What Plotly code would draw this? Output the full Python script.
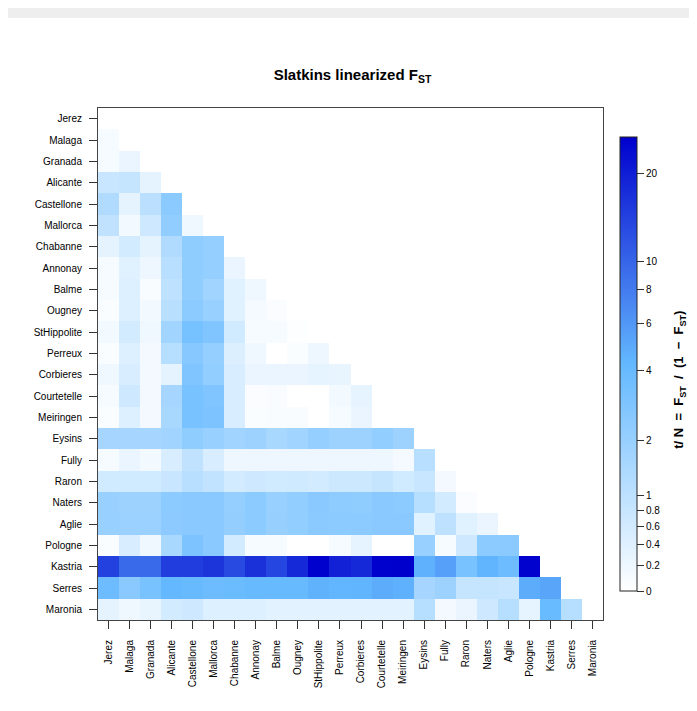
import numpy as np
import plotly.graph_objects as go

pops = ["Jerez", "Malaga", "Granada", "Alicante", "Castellone", "Mallorca",
        "Chabanne", "Annonay", "Balme", "Ougney", "StHippolite", "Perreux",
        "Corbieres", "Courtetelle", "Meiringen", "Eysins", "Fully", "Raron",
        "Naters", "Aglie", "Pologne", "Kastria", "Serres", "Maronia"]

# lower triangle, row i holds distances to populations 0..i-1
fst_rows = [
    [],
    [0.11],
    [0.11, 0.25],
    [0.79, 0.85, 0.32],
    [1.30, 0.32, 1.05, 2.45],
    [0.95, 0.15, 0.69, 2.20, 0.17],
    [0.32, 0.59, 0.32, 1.30, 2.23, 2.07],
    [0.11, 0.39, 0.20, 1.12, 2.23, 2.07, 0.25],
    [0.11, 0.43, 0.07, 0.99, 2.23, 1.72, 0.39, 0.17],
    [0.05, 0.43, 0.15, 1.10, 2.37, 1.97, 0.39, 0.12, 0.06],
    [0.13, 0.59, 0.18, 1.72, 3.25, 2.83, 0.64, 0.11, 0.11, 0.03],
    [0.05, 0.43, 0.14, 1.18, 2.60, 2.07, 0.45, 0.17, 0.00, 0.05, 0.20],
    [0.18, 0.51, 0.14, 0.32, 2.83, 2.16, 0.51, 0.25, 0.25, 0.25, 0.30, 0.27],
    [0.11, 0.70, 0.14, 1.58, 3.17, 2.83, 0.51, 0.06, 0.07, 0.00, 0.00, 0.15, 0.30],
    [0.05, 0.43, 0.14, 1.50, 3.17, 3.00, 0.51, 0.05, 0.07, 0.07, 0.00, 0.10, 0.25],
    [1.58, 1.58, 1.58, 1.72, 2.23, 1.97, 1.72, 1.84, 1.50, 1.72, 2.07, 1.84, 1.84, 2.16, 1.84],
    [0.11, 0.25, 0.15, 0.51, 0.95, 0.51, 0.20, 0.20, 0.20, 0.20, 0.20, 0.20, 0.20, 0.20, 0.12, 1.12],
    [0.64, 0.64, 0.64, 0.79, 1.12, 0.91, 0.59, 0.69, 0.64, 0.66, 0.59, 0.72, 0.72, 0.85, 0.64, 0.79, 0.14],
    [1.97, 1.84, 1.84, 2.37, 2.51, 2.51, 2.07, 2.37, 1.97, 2.16, 2.51, 2.30, 2.23, 2.51, 2.37, 1.18, 0.59, 0.06],
    [1.97, 1.90, 1.90, 2.40, 2.51, 2.51, 2.10, 2.37, 2.00, 2.16, 2.45, 2.37, 2.37, 2.51, 2.51, 0.39, 0.99, 0.39, 0.25],
    [0.05, 0.51, 0.18, 1.50, 3.00, 2.51, 0.59, 0.11, 0.11, 0.00, 0.00, 0.11, 0.30, 0.00, 0.00, 1.97, 0.11, 0.69, 2.37, 2.45],
    [14.2, 9.5, 9.5, 14.8, 14.8, 16.0, 13.1, 16.6, 13.6, 17.9, 26.0, 19.3, 17.9, 26.1, 26.3, 4.58, 5.46, 3.17, 4.38, 3.72, 25.8],
    [3.72, 2.51, 3.17, 4.20, 3.93, 3.72, 3.80, 3.93, 3.93, 3.93, 4.50, 4.30, 4.38, 4.80, 4.58, 1.58, 1.84, 0.85, 0.85, 0.79, 4.80, 5.20],
    [0.32, 0.18, 0.27, 0.59, 0.69, 0.43, 0.43, 0.43, 0.35, 0.35, 0.35, 0.35, 0.35, 0.35, 0.35, 1.18, 0.14, 0.25, 0.69, 1.18, 0.30, 3.90, 1.18],
]

cbar_ticks = [0, 0.2, 0.4, 0.6, 0.8, 1, 2, 4, 6, 8, 10, 20]

n = len(pops)
z = np.full((n, n), np.nan)
for i, row in enumerate(fst_rows):
    for j, v in enumerate(row):
        z[i, j] = np.log1p(v)
zmax = np.nanmax(z)

fig = go.Figure(go.Heatmap(
    z=z, x=pops, y=pops,
    zmin=0, zmax=zmax,
    colorscale=[[0, "#FFFFFF"], [0.5, "#63B8FF"], [1, "#0000CD"]],
    hoverongaps=False,
    colorbar=dict(
        x=1.034, xanchor="left", y=0.5, yanchor="middle",
        len=0.887, thickness=17, xpad=0, ypad=0,
        outlinewidth=1, outlinecolor="#222",
        tickvals=list(np.log1p(cbar_ticks)), ticktext=[str(t) for t in cbar_ticks],
        ticks="outside", ticklen=7, tickcolor="#333",
        tickfont=dict(size=10, color="#000"),
    ),
))

axis_common = dict(
    showline=True, mirror=True, linecolor="#444", linewidth=1,
    ticks="outside", ticklen=8, tickcolor="#333",
    tickfont=dict(size=10, color="#000"), showgrid=False, zeroline=False,
)
fig.update_xaxes(tickangle=-90, ticklabelstandoff=7, **axis_common)
fig.update_yaxes(autorange="reversed", ticklabelstandoff=5, **axis_common)

# colour key label, rotated beside the colorbar
fig.add_annotation(
    text="<b>t/ N  =  F<sub>ST</sub>  /  (1  −  F<sub>ST</sub>)</b>",
    xref="paper", yref="paper", x=1.172, xanchor="right", y=0.47, textangle=-90,
    showarrow=False, font=dict(size=13, color="#000"),
)

# grey band of the notebook frame at the top
fig.add_shape(type="rect", xref="paper", yref="paper", x0=-0.3, x1=1.3, y0=1.176, y1=1.25,
              fillcolor="#EEEEEE", line_width=0, layer="below")

fig.update_layout(
    width=689, height=703,
    margin=dict(l=90, r=94, t=100, b=91),
    paper_bgcolor="white", plot_bgcolor="white",
    font=dict(family="Liberation Sans, Arial, sans-serif"),
    title=dict(text="<b>Slatkins linearized F<sub>ST</sub></b>", x=0.5, xanchor="center",
               y=0.905, yanchor="middle", font=dict(size=15, color="#000")),
)

fig.write_html("out.html")
